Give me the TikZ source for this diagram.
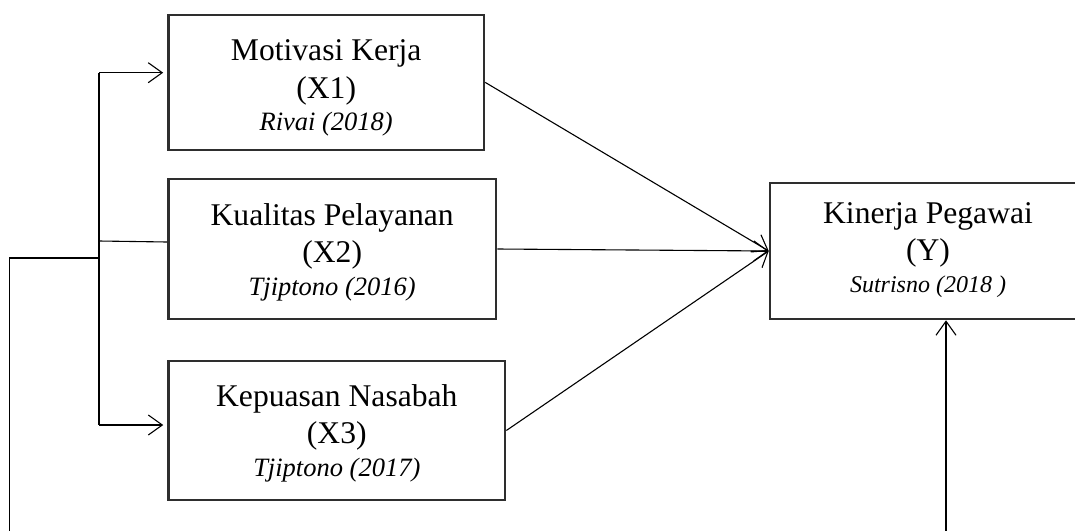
\documentclass[tikz,border=0pt]{standalone}
\usepackage{fontspec}
\setmainfont{Liberation Serif}
\usetikzlibrary{arrows.meta,calc}
\begin{document}
\begin{tikzpicture}[x=1pt,y=-1pt,
  box/.style={draw=black!82, line width=2.6pt, rectangle, inner sep=0pt},
  lab/.style={inner sep=0pt, anchor=base, font=\fontsize{31.6}{36}\selectfont},
  cite/.style={inner sep=0pt, anchor=base, font=\fontsize{26.5}{30}\selectfont\itshape},
  citey/.style={inner sep=0pt, anchor=base, font=\fontsize{24}{28}\selectfont\itshape},
  conn/.style={line width=1.1pt, black},
  arr/.style={conn, -{Straight Barb[length=14pt,width=20pt]}}
]
\useasboundingbox (0,0) rectangle (1075,530);
\clip (0,0) rectangle (1075,530);

% boxes
\node[box, minimum width=315.5pt, minimum height=134.8pt] (X1) at (326.2,82.4) {};
\node[box, minimum width=327.5pt, minimum height=140pt] (X2) at (332.2,249) {};
\node[box, minimum width=336.5pt, minimum height=139pt] (X3) at (336.8,430.5) {};
\node[box, minimum width=316pt, minimum height=136pt] (Y) at (928,251) {};

% texts
\node[lab] (X1a) at ($(X1)+(0,-22.4)$) {Motivasi Kerja};
\node[lab] (X1b) at ($(X1)+(0,16.3)$) {(X1)};
\node[cite] (X1c) at ($(X1)+(0,47.6)$) {Rivai (2018)};

\node[lab] (X2a) at ($(X2)+(0,-23.5)$) {Kualitas Pelayanan};
\node[lab] (X2b) at ($(X2)+(0,13)$) {(X2)};
\node[cite] (X2c) at ($(X2)+(0,46)$) {Tjiptono (2016)};

\node[lab] (X3a) at ($(X3)+(0,-24.5)$) {Kepuasan Nasabah};
\node[lab] (X3b) at ($(X3)+(0,12.5)$) {(X3)};
\node[cite] (X3c) at ($(X3)+(0,46.2)$) {Tjiptono (2017)};

\node[lab] (Ya) at ($(Y)+(0,-28)$) {Kinerja Pegawai};
\node[lab] (Yb) at ($(Y)+(0,9)$) {(Y)};
\node[citey] (Yc) at ($(Y)+(0,41.4)$) {Sutrisno (2018 )};

% connector points
\coordinate (T1) at (99,72.7);
\coordinate (T2) at (99,241);
\coordinate (J) at (99,258);
\coordinate (T3) at (99,425);
\coordinate (F0) at (9.5,545);
\coordinate (B0) at (946,545);

% left tree
\draw[conn] (T1) -- (T3);
\draw[arr, shorten >=4pt] (T1) -- (T1 -| X1.west);
\draw[conn] (T2) -- ([yshift=7pt]X2.west);
\draw[arr, shorten >=4pt] (T3) -- (T3 -| X3.west);
\draw[conn] (F0) |- (J);

% to Y
\draw[arr] (X1.east) -- (Y.west);
\draw[arr] (X2.east) -- (Y.west);
\draw[arr] (X3.east) -- (Y.west);
\draw[arr] (B0) -- (B0 |- Y.south);
\end{tikzpicture}
\end{document}
